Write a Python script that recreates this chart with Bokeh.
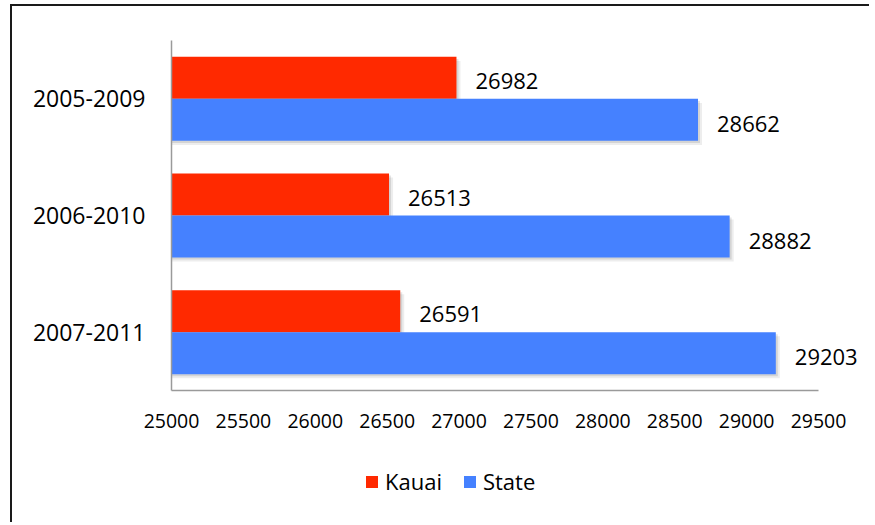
from bokeh.plotting import figure
from bokeh.models import ColumnDataSource, FactorRange, FixedTicker, Legend, LegendItem, Range1d
from bokeh.layouts import column
from bokeh.transform import dodge
from bokeh.core.properties import value
from bokeh.embed import file_html
from bokeh.resources import INLINE

periods = ["2005-2009", "2006-2010", "2007-2011"]
kauai = [26982, 26513, 26591]
state = [28662, 28882, 29203]
series_names = ["Kauai", "State"]
x_ticks = [25000, 25500, 26000, 26500, 27000, 27500, 28000, 28500, 29000, 29500]
x_start = 25000
x_end = 29500

RED = "#FF2900"
BLUE = "#4581FF"
FONT = "Open Sans"

W = 857
AXIS_PX = 647     # pixel length of the drawn x axis
EXTRA_PX = 48     # room right of the axis for value labels
range_end = x_end + (x_end - x_start) * EXTRA_PX / AXIS_PX

src = ColumnDataSource(dict(
    period=periods,
    kauai=kauai,
    state=state,
    kauai_txt=[str(v) for v in kauai],
    state_txt=[str(v) for v in state],
    base=[x_start] * len(periods),
))

H1 = 34 + 350 + 70
p = figure(
    y_range=FactorRange(factors=list(reversed(periods))),
    x_range=(x_start, range_end),
    width=W, height=H1,
    frame_width=AXIS_PX + EXTRA_PX, frame_height=350,
    min_border_left=159, min_border_right=3,
    min_border_top=34, min_border_bottom=70,
    output_backend="svg", toolbar_location=None,
)
p.outline_line_color = None
p.grid.visible = False
p.background_fill_color = "white"
p.border_fill_color = "white"

H = 0.36
D = 0.18
# soft shadows
for dx, dy, a in [(28, 0.035, 0.07), (14, 0.018, 0.10)]:
    p.hbar(y=dodge("period", D - dy, range=p.y_range), left="base",
           right=dodge("kauai", dx), height=H, source=src,
           fill_color="black", fill_alpha=a, line_color=None)
    p.hbar(y=dodge("period", -D - dy, range=p.y_range), left="base",
           right=dodge("state", dx), height=H, source=src,
           fill_color="black", fill_alpha=a, line_color=None)

p.hbar(y=dodge("period", D, range=p.y_range), left="base", right="kauai",
       height=H, source=src, fill_color=RED, line_color=None)
p.hbar(y=dodge("period", -D, range=p.y_range), left="base", right="state",
       height=H, source=src, fill_color=BLUE, line_color=None)

p.text(x="kauai", y=dodge("period", D, range=p.y_range), text="kauai_txt", source=src,
       x_offset=19, y_offset=3, text_baseline="middle", text_align="left",
       text_font=value(FONT), text_font_size="22px", text_color="black")
p.text(x="state", y=dodge("period", -D, range=p.y_range), text="state_txt", source=src,
       x_offset=19, y_offset=4, text_baseline="middle", text_align="left",
       text_font=value(FONT), text_font_size="22px", text_color="black")

xa = p.xaxis[0]
xa.ticker = FixedTicker(ticks=x_ticks)
xa.bounds = (x_start, x_end)
xa.axis_line_color = "#9a9a9a"
xa.axis_line_width = 1.5
xa.major_tick_line_color = None
xa.minor_tick_line_color = None
xa.major_label_standoff = 17
xa.major_label_text_font = FONT
xa.major_label_text_font_size = "19.5px"
xa.major_label_text_color = "black"

ya = p.yaxis[0]
ya.axis_line_color = "#9a9a9a"
ya.axis_line_width = 1.5
ya.major_tick_line_color = None
ya.minor_tick_line_color = None
ya.major_label_standoff = 20
ya.major_label_text_font = FONT
ya.major_label_text_font_size = "23px"
ya.major_label_text_color = "black"

# legend strip below the chart (its glyphs lie outside the strip's visible range)
H2 = 62
p2 = figure(width=W, height=H2, x_range=Range1d(0, W), y_range=Range1d(0, H2),
            x_axis_location=None, y_axis_location=None,
            min_border=0, output_backend="svg", toolbar_location=None)
p2.outline_line_color = None
p2.grid.visible = False
lk = p2.quad(left="base", right="kauai", bottom=0, top=1, source=src,
             fill_color=RED, line_color=None)
ls = p2.quad(left="base", right="state", bottom=0, top=1, source=src,
             fill_color=BLUE, line_color=None)
legend = Legend(
    items=[LegendItem(label=series_names[0], renderers=[lk]),
           LegendItem(label=series_names[1], renderers=[ls])],
    orientation="horizontal", location=(193, 26),
    padding=0, margin=0, spacing=20, label_standoff=6,
    glyph_width=15, glyph_height=15,
    label_text_font=FONT, label_text_font_size="22px", label_text_color="black",
    border_line_color=None, background_fill_alpha=0,
)
p2.add_layout(legend, "center")

layout = column(p, p2, spacing=0)
layout.styles = {"border-top": "2px solid #1a1a1a", "border-left": "2px solid #1a1a1a",
                 "margin-left": "10px", "margin-top": "4px"}

open("out.html", "w").write(file_html(layout, INLINE))
